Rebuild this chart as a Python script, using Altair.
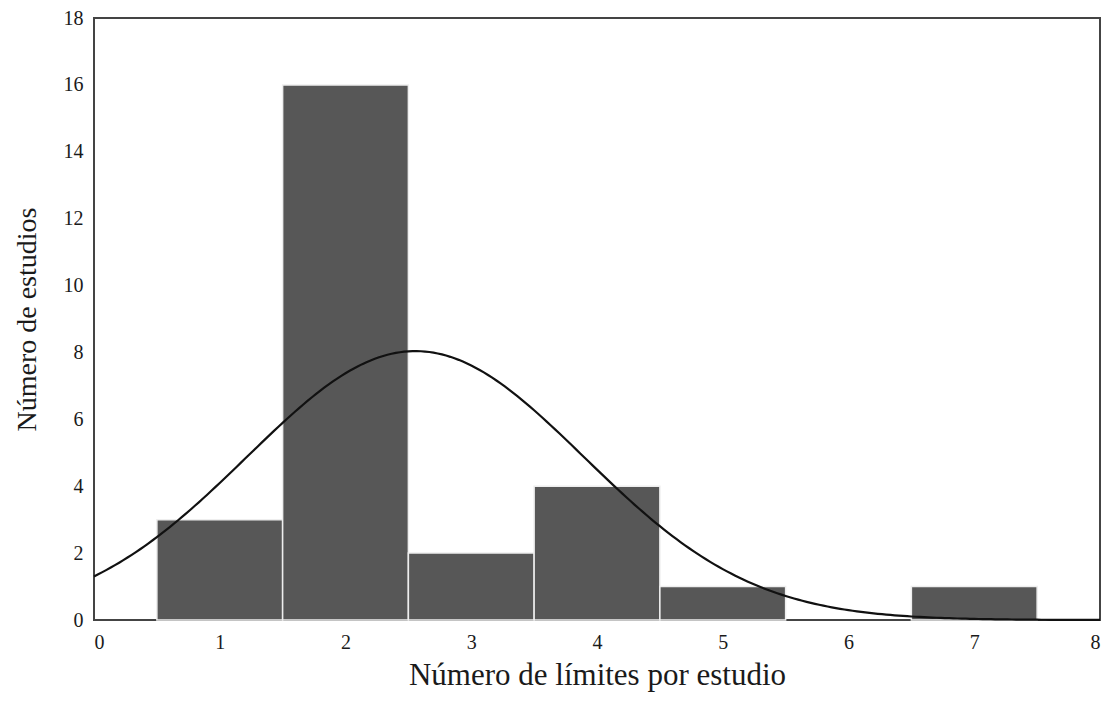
import altair as alt
import pandas as pd
import numpy as np

# Histogram data
limits = [1, 2, 3, 4, 5, 6, 7]
counts = [3, 16, 2, 4, 1, 0, 1]

bars = pd.DataFrame({
    "x0": [v - 0.5 for v in limits],
    "x1": [v + 0.5 for v in limits],
    "n": counts,
})
bars = bars[bars["n"] > 0]

# Fitted normal curve (from the histogram's own mean and sample sd)
vals = np.repeat(limits, counts)
mu = vals.mean()
sd = vals.std(ddof=1)
N = len(vals)
xs = np.linspace(0, 8, 241)
ys = N * 1.0 / (sd * np.sqrt(2 * np.pi)) * np.exp(-((xs - mu) ** 2) / (2 * sd ** 2))
curve = pd.DataFrame({"x": xs, "y": ys})

FONT = "Liberation Serif"

xscale = alt.Scale(domain=[0, 8], nice=False, zero=False)
yscale = alt.Scale(domain=[0, 18], nice=False)

xaxis = alt.Axis(title="Número de límites por estudio", values=list(range(0, 9)), format="d",
                 grid=False, domain=False, ticks=False, labelPadding=12,
                 titlePadding=8, labelFontSize=20, titleFontSize=31,
                 labelFont=FONT, titleFont=FONT, titleFontWeight="normal",
                 labelColor="#1a1a1a", titleColor="#1a1a1a")
yaxis = alt.Axis(title="Número de estudios", values=list(range(0, 19, 2)),
                 grid=False, domain=False, ticks=False, labelPadding=11,
                 titlePadding=22, labelFontSize=20, titleFontSize=28,
                 labelFont=FONT, titleFont=FONT, titleFontWeight="normal",
                 labelColor="#1a1a1a", titleColor="#1a1a1a")

bar_layer = alt.Chart(bars).mark_rect(fill="#575757", stroke="#eeeeee", strokeWidth=1.5).encode(
    x=alt.X("x0:Q", scale=xscale, axis=xaxis),
    x2="x1:Q",
    y=alt.Y("n:Q", scale=yscale, axis=yaxis),
    y2=alt.datum(0),
)

line_layer = alt.Chart(curve).mark_line(color="#111", strokeWidth=2.2).encode(
    x=alt.X("x:Q", scale=xscale),
    y=alt.Y("y:Q", scale=yscale),
)

chart = alt.layer(bar_layer, line_layer).properties(
    width=1006, height=602,
    background="white",
    autosize=alt.AutoSizeParams(type="none"),
    padding={"left": 86, "top": 10, "right": 3, "bottom": 78},
).configure_view(stroke="#444", strokeWidth=2)

chart.save("out.html", embed_options={"renderer": "svg", "actions": False})
